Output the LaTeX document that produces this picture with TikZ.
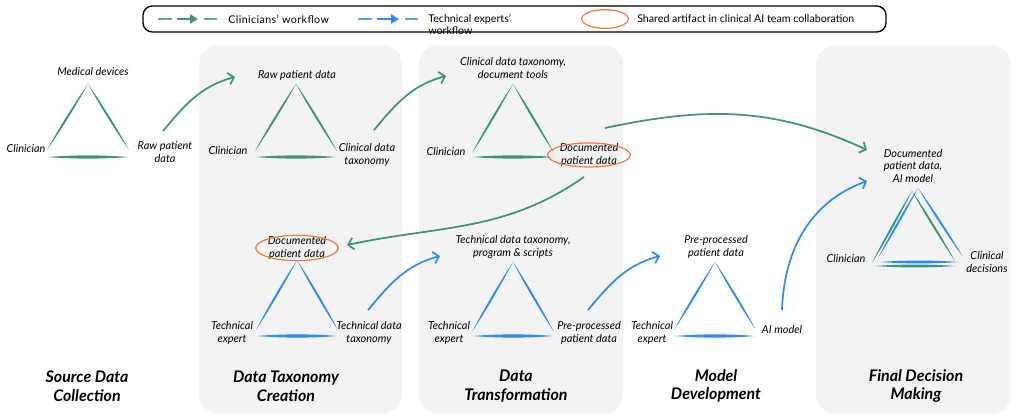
\documentclass[tikz,border=0pt]{standalone}
\usepackage{fontspec}
\setmainfont{Lato}
\usetikzlibrary{arrows.meta,calc,shapes.geometric}
\definecolor{cgreen}{HTML}{3A9580}
\definecolor{cblue}{HTML}{2B8CF5}
\definecolor{corange}{HTML}{F0783A}
\definecolor{panelgray}{HTML}{F3F3F3}
\newcommand\brushstroke[4]{%
 \fill[#1] (#2) .. controls ($(#2)!0.3!(#3)!#4!90:(#3)$) and ($(#2)!0.7!(#3)!#4!90:(#3)$) .. (#3)
  .. controls ($(#2)!0.7!(#3)!#4!-90:(#3)$) and ($(#2)!0.3!(#3)!#4!-90:(#3)$) .. (#2) -- cycle;}
\newcommand\tria[6]{% prefix, apex x, apex y, color, side drop, base drop
 \coordinate (#1t) at (#2,#3);
 \coordinate (#1l) at (#2-41,#3+#5);
 \coordinate (#1r) at (#2+41,#3+#5);
 \coordinate (#1bl) at (#2-40,#3+#6);
 \coordinate (#1br) at (#2+40,#3+#6);
 \brushstroke{#4}{#1t}{#1l}{1.0pt}
 \brushstroke{#4}{#1t}{#1r}{1.0pt}
 \brushstroke{#4}{#1bl}{#1br}{1.6pt}}
\tikzset{
 lbl/.style={font=\fontsize{8.2}{9.6}\selectfont\itshape, align=center, inner sep=0pt},
 ttl/.style={font=\fontsize{12}{14}\selectfont\bfseries\itshape, align=center, inner sep=0pt},
 leg/.style={font=\fontsize{8}{9}\selectfont, anchor=west, inner sep=0pt, align=left},
 garr/.style={draw=cgreen, line width=1.3pt, -{Straight Barb[length=4pt,width=9pt,line width=1.3pt]}},
 barr/.style={draw=cblue, line width=1.3pt, -{Straight Barb[length=4pt,width=9pt,line width=1.3pt]}},
 art/.style={draw=corange, line width=0.9pt},
 pnl/.style={fill=panelgray, rounded corners=15pt}
}
\begin{document}
\begin{tikzpicture}[x=0.75pt,y=-0.75pt]
\useasboundingbox (0,0) rectangle (1021,416);
% panels
\fill[pnl] (199,45) rectangle (402,414);
\fill[pnl] (419,45) rectangle (623,414);
\fill[pnl] (816,45) rectangle (1011,414);
% legend
\draw[black, line width=1pt, rounded corners=7pt] (143,6) rectangle (886,32);
\coordinate (lg1) at (158,19); \coordinate (lg2) at (172,19);
\coordinate (lg3) at (177,19); \coordinate (lg4) at (198,19);
\coordinate (lg5) at (204,19); \coordinate (lg6) at (217,19);
\draw[cgreen!80, line width=1.1pt] (lg1) -- (lg2) (lg5) -- (lg6);
\draw[cgreen, line width=1.2pt, -{Triangle[length=6pt,width=7pt]}] (lg3) -- (lg4);
\node[leg] (lgt1) at (228,19) {\addfontfeature{LetterSpace=4}Clinicians' workflow};
\coordinate (lb1) at (358,19); \coordinate (lb2) at (372,19);
\coordinate (lb3) at (377,19); \coordinate (lb4) at (399,19);
\coordinate (lb5) at (405,19); \coordinate (lb6) at (418,19);
\draw[cblue!80, line width=1.1pt] (lb1) -- (lb2) (lb5) -- (lb6);
\draw[cblue, line width=1.2pt, -{Triangle[length=6pt,width=7pt]}] (lb3) -- (lb4);
\node[leg, anchor=north west] (lgt2) at (428,14) {Technical experts'\\workflow};
\node[art, ellipse, minimum width=35pt, minimum height=14pt, inner sep=0pt] (lge) at (605,19) {};
\node[leg] (lgt3) at (637,19) {Shared artifact in clinical AI team collaboration};
% triangles
\tria{s}{88}{84}{cgreen}{66}{73}
\tria{p}{296}{84}{cgreen}{67}{73}
\tria{c}{513}{84}{cgreen}{69}{73}
\tria{q}{297}{260}{cblue}{70}{76}
\tria{d}{513}{262}{cblue}{70}{74}
\tria{m}{715}{262}{cblue}{68}{74}
% final triangles
\coordinate (fgt) at (912,191); \coordinate (fgl) at (872,263); \coordinate (fgr) at (955,261);
\coordinate (fgbl) at (875,266); \coordinate (fgbr) at (955,266);
\coordinate (fbt) at (918,188); \coordinate (fbl) at (878,258); \coordinate (fbr) at (963,257);
\coordinate (fbbl) at (880,262); \coordinate (fbbr) at (958,262);
\brushstroke{cgreen}{fgt}{fgl}{1.0pt}
\brushstroke{cgreen}{fgt}{fgr}{1.0pt}
\brushstroke{cgreen}{fgbl}{fgbr}{1.4pt}
\brushstroke{cblue}{fbt}{fbl}{1.0pt}
\brushstroke{cblue}{fbt}{fbr}{1.0pt}
\brushstroke{cblue}{fbbl}{fbbr}{1.4pt}
% labels
\node[lbl] (s-top) at (93,72) {Medical devices};
\node[lbl] (s-l) at (26,149) {Clinician};
\node[lbl] (s-r) at (165,152) {Raw patient\\data};
\node[lbl] (p-top) at (297,75) {Raw patient data};
\node[lbl] (p-l) at (228,151) {Clinician};
\node[lbl] (p-r) at (367,155) {Clinical data\\taxonomy};
\node[lbl] (c-top) at (513,68) {Clinical data taxonomy,\\document tools};
\node[lbl] (c-l) at (446,152) {Clinician};
\node[lbl] (c-r) at (589,155) {Documented\\patient data};
\draw[art] (c-r.center) ellipse [x radius=31pt, y radius=9pt];
\node[lbl] (f-top) at (913,166) {Documented\\patient data,\\AI model};
\node[lbl] (f-l) at (846,259) {Clinician};
\node[lbl] (f-r) at (987,262) {Clinical\\decisions};
\node[lbl] (q-top) at (297,248) {Documented\\patient data};
\draw[art] (q-top.center) ellipse [x radius=31pt, y radius=9.5pt];
\node[lbl] (q-l) at (232,333) {Technical\\expert};
\node[lbl] (q-r) at (369,333) {Technical data\\taxonomy};
\node[lbl] (d-top) at (513,247) {Technical data taxonomy,\\program \& scripts};
\node[lbl] (d-l) at (449,333) {Technical\\expert};
\node[lbl] (d-r) at (589,333) {Pre-processed\\patient data};
\node[lbl] (m-top) at (716,247) {Pre-processed\\patient data};
\node[lbl] (m-l) at (652,333) {Technical\\expert};
\node[lbl] (m-r) at (782,330) {AI model};
% arrows
\coordinate (a1s) at (163,131); \coordinate (a1e) at (235,77);
\coordinate (a2s) at (374,130); \coordinate (a2e) at (446,76);
\coordinate (a3s) at (605,128); \coordinate (a3e) at (867,150);
\coordinate (a4s) at (584,177); \coordinate (a4e) at (347,245);
\coordinate (a5s) at (368,310); \coordinate (a5e) at (440,256);
\coordinate (a6s) at (588,310); \coordinate (a6e) at (660,256);
\coordinate (a7s) at (782,310); \coordinate (a7e) at (867,181);
\draw[garr] (a1s) to[out=50,in=195] (a1e);
\draw[garr] (a2s) to[out=50,in=195] (a2e);
\draw[garr] (a3s) to[out=12,in=155] (a3e);
\draw[garr] (a4s) to[out=215,in=12] (a4e);
\draw[barr] (a5s) to[out=50,in=195] (a5e);
\draw[barr] (a6s) to[out=50,in=195] (a6e);
\draw[barr] (a7s) to[out=88,in=200] (a7e);
% titles
\node[ttl] (t1) at (87,386) {Source Data\\Collection};
\node[ttl] (t2) at (286,386) {Data Taxonomy\\Creation};
\node[ttl] (t3) at (516,386) {Data\\Transformation};
\node[ttl] (t4) at (716,386) {Model\\Development};
\node[ttl] (t5) at (916,386) {Final Decision\\Making};
\end{tikzpicture}
\end{document}
